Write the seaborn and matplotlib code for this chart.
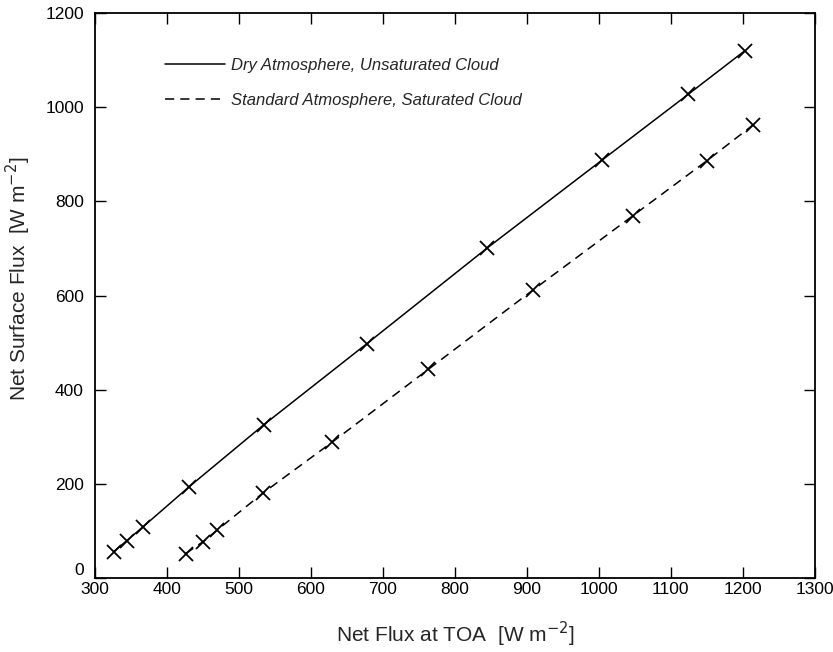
import matplotlib
matplotlib.use("Agg")
import matplotlib.pyplot as plt
import seaborn as sns
import pandas as pd
from matplotlib.lines import Line2D

sns.set_style("ticks")
plt.rcParams['font.family'] = ['Liberation Sans', 'DejaVu Sans']

dry_x = [326, 344, 367, 431, 535, 678, 845, 1004, 1124, 1203]
dry_y = [56, 79, 109, 194, 326, 498, 701, 887, 1027, 1120]
std_x = [426, 450, 470, 533, 630, 763, 908, 1047, 1150, 1215]
std_y = [52, 77, 102, 180, 289, 443, 611, 769, 886, 963]

dry_label = "Dry Atmosphere, Unsaturated Cloud"
std_label = "Standard Atmosphere, Saturated Cloud"

x_ticks = [300, 400, 500, 600, 700, 800, 900, 1000, 1100, 1200, 1300]
y_ticks = [0, 200, 400, 600, 800, 1000, 1200]

df = pd.concat([
    pd.DataFrame({"x": dry_x, "y": dry_y, "case": dry_label}),
    pd.DataFrame({"x": std_x, "y": std_y, "case": std_label}),
])

fig = plt.figure(figsize=(8.33, 6.52), dpi=100)
ax = fig.add_axes([0.114, 0.1135, 0.864, 0.8665])

sns.lineplot(data=df, x="x", y="y", hue="case", style="case",
             palette={dry_label: "black", std_label: "black"},
             dashes={dry_label: "", std_label: (6, 4)},
             markers={dry_label: "x", std_label: "x"},
             markersize=10, markeredgewidth=1.3, markeredgecolor="black",
             linewidth=1.1, sort=False, ax=ax, legend=False)

ax.set_xlim(300, 1300)
ax.set_ylim(0, 1200)
ax.set_xticks(x_ticks)
ax.set_yticks(y_ticks)
ax.tick_params(direction="in", length=8, width=1, top=True, right=True,
               labelsize=12.5, colors="black")
ax.tick_params(axis="x", pad=3)
ax.tick_params(axis="y", pad=8)
ax.get_yticklabels()[0].set_va("bottom")
for s in ax.spines.values():
    s.set_linewidth(1.3)
    s.set_color("black")

ax.set_xlabel(r"Net Flux at TOA  [W m$^{-2}$]", fontsize=15, labelpad=16)
ax.set_ylabel(r"Net Surface Flux  [W m$^{-2}$]", fontsize=15)
ax.yaxis.set_label_coords(-0.086, 0.53)

handles = [Line2D([], [], color="black", lw=1.1),
           Line2D([], [], color="black", lw=1.1, dashes=(6, 4))]
leg = ax.legend(handles, [dry_label, std_label], loc="upper left",
                bbox_to_anchor=(0.076, 0.947), frameon=False,
                handlelength=3.6, handletextpad=0.4, labelspacing=1.2,
                prop={"style": "italic", "size": 12})

fig.savefig("out.png", dpi=100)
